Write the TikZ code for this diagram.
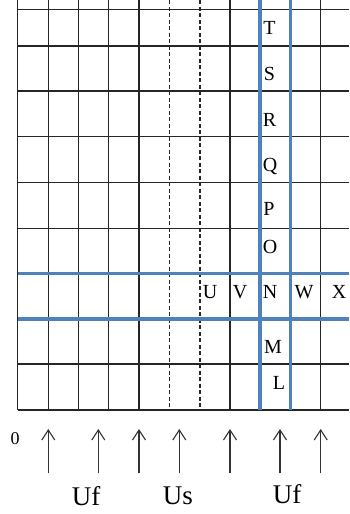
\documentclass[tikz,border=0pt]{standalone}
\usepackage{fontspec}
\setmainfont{Liberation Serif}
\usetikzlibrary{arrows.meta}
\definecolor{gridblue}{RGB}{79,129,189}
\begin{document}
\begin{tikzpicture}[x=1pt,y=-1pt,
  gridline/.style={line width=1.3pt,black!85},
  dashline/.style={line width=1.2pt,black!85,dash pattern=on 4pt off 2.5pt},
  blueline/.style={line width=3.2pt,gridblue},
  lett/.style={font=\fontsize{20}{20}\selectfont,inner sep=0pt},
  biglab/.style={font=\fontsize{27}{27}\selectfont,inner sep=0pt},
  uparrow/.style={line width=1.1pt,black!80,-{Straight Barb[length=10pt,width=13pt,line width=1.1pt]}}]
\useasboundingbox (0,0) rectangle (349,514);
% vertical solid lines
\foreach \x in {17.5,48.3,78.7,108.7,139,230,320.7}
  \draw[gridline] (\x,0) -- (\x,410);
% dashed lines
\foreach \x in {169.3,200}
  \draw[dashline] (\x,0) -- (\x,410);
% horizontal lines
\foreach \y in {9.3,46,91,136.7,182.7,228.3,364,410}
  \draw[gridline] (17.5,\y) -- (349,\y);
% blue lines
\foreach \x in {260,290.3}
  \draw[blueline] (\x,0) -- (\x,410);
\foreach \y in {273.3,319}
  \draw[blueline] (17.5,\y) -- (349,\y);
% letters
\node[lett] (T) at (269.5,28) {T};
\node[lett] (S) at (269.5,74) {S};
\node[lett] (R) at (269.5,119.5) {R};
\node[lett] (Q) at (270,166) {Q};
\node[lett] (P) at (269,209) {P};
\node[lett] (O) at (270,247) {O};
\node[lett] (U) at (210,292) {U};
\node[lett] (V) at (240,292) {V};
\node[lett] (N) at (270,292) {N};
\node[lett] (W) at (304,292) {W};
\node[lett] (X) at (339,292) {X};
\node[lett] (M) at (273,347) {M};
\node[lett] (L) at (279,382.5) {L};
% bottom
\node[font=\fontsize{18}{18}\selectfont,inner sep=0pt] (zero) at (15,439) {0};
\foreach \x [count=\i] in {48.3,98.3,139,179.3,230,280,320.7} {
  \coordinate (a\i) at (\x,473.3);
  \coordinate (b\i) at (\x,429);
  \draw[uparrow] (a\i) -- (b\i);
}
\node[biglab] (uf1) at (86,496) {Uf};
\node[biglab] (us) at (178,496) {Us};
\node[biglab] (uf2) at (287,494) {Uf};
\end{tikzpicture}
\end{document}
